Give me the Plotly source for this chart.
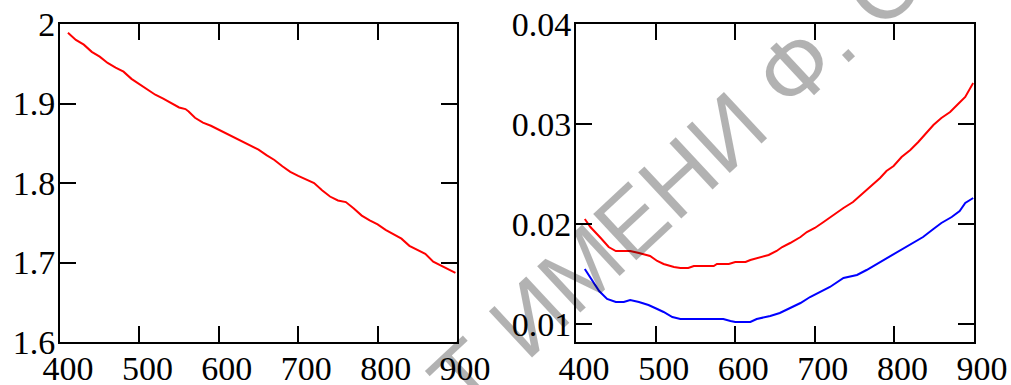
import plotly.graph_objects as go
from plotly.subplots import make_subplots

# ---- data: left panel ----
x_left = [410, 420, 430, 440, 450, 460, 470, 480, 490, 500, 510, 520, 530, 540, 550, 558, 562,
          570, 580, 590, 600, 610, 620, 630, 640, 650, 660, 670, 680, 690, 700, 710, 720, 730,
          740, 750, 760, 770, 780, 790, 800, 810, 820, 830, 840, 850, 860, 870, 880, 890, 898]
y_left = [1.989, 1.980, 1.974, 1.965, 1.959, 1.951, 1.945, 1.940, 1.931, 1.924, 1.917, 1.911,
          1.906, 1.900, 1.895, 1.893, 1.890, 1.882, 1.876, 1.872, 1.867, 1.862, 1.857, 1.852,
          1.847, 1.842, 1.835, 1.829, 1.821, 1.814, 1.809, 1.805, 1.800, 1.791, 1.783, 1.778,
          1.776, 1.768, 1.759, 1.753, 1.748, 1.741, 1.736, 1.730, 1.721, 1.716, 1.711, 1.701,
          1.696, 1.691, 1.687]

# ---- data: right panel, red curve ----
x_red = [411, 418, 431, 441, 450, 468, 479, 493, 502, 510, 523, 531, 541, 548, 565, 573, 577,
         592, 600, 613, 619, 627, 642, 652, 659, 669, 682, 690, 700, 711, 723, 736, 748, 761,
         774, 782, 790, 799, 809, 820, 830, 841, 849, 859, 870, 880, 889, 899]
y_red = [0.0205, 0.0197, 0.0186, 0.0177, 0.0173, 0.0173, 0.0171, 0.0168, 0.0163, 0.0160,
         0.0157, 0.0156, 0.0156, 0.0158, 0.0158, 0.0158, 0.0160, 0.0160, 0.0162, 0.0162,
         0.0164, 0.0166, 0.0169, 0.0173, 0.0177, 0.0181, 0.0187, 0.0192, 0.0196, 0.0202,
         0.0209, 0.0216, 0.0222, 0.0231, 0.0240, 0.0246, 0.0253, 0.0258, 0.0267, 0.0274,
         0.0282, 0.0292, 0.0299, 0.0306, 0.0312, 0.0320, 0.0327, 0.0341]

# ---- data: right panel, blue curve ----
x_blue = [411, 418, 429, 439, 450, 460, 468, 479, 491, 502, 510, 521, 531, 552, 585, 594, 600,
          619, 627, 644, 656, 669, 682, 694, 707, 719, 736, 753, 765, 778, 790, 801, 811, 824,
          836, 849, 859, 872, 882, 889, 899]
y_blue = [0.0155, 0.0146, 0.0133, 0.0125, 0.0122, 0.0122, 0.0124, 0.0122, 0.0119, 0.0115,
          0.0112, 0.0107, 0.0105, 0.0105, 0.0105, 0.0103, 0.0102, 0.0102, 0.0105, 0.0108,
          0.0111, 0.0116, 0.0121, 0.0127, 0.0132, 0.0137, 0.0146, 0.0149, 0.0154, 0.0160,
          0.0165, 0.0170, 0.0175, 0.0181, 0.0187, 0.0195, 0.0201, 0.0207, 0.0213, 0.0221,
          0.0226]

# ---- ticks ----
x_ticks = [400, 500, 600, 700, 800, 900]
x_tick_text = ["400", "500", "600", "700", "800", "900"]
yl_ticks = [1.6, 1.7, 1.8, 1.9, 2.0]
yl_tick_text = ["1.6", "1.7", "1.8", "1.9", "2"]
yr_ticks = [0.01, 0.02, 0.03, 0.04]
yr_tick_text = ["0.01", "0.02", "0.03", "0.04"]

watermark = "Т ИМЕНИ Ф. С"

fig = make_subplots(rows=1, cols=2)
fig.add_trace(go.Scatter(x=x_left, y=y_left, mode="lines",
                         line=dict(color="#ff0000", width=2)), row=1, col=1)
fig.add_trace(go.Scatter(x=x_red, y=y_red, mode="lines",
                         line=dict(color="#ff0000", width=2)), row=1, col=2)
fig.add_trace(go.Scatter(x=x_blue, y=y_blue, mode="lines",
                         line=dict(color="#0000ff", width=2)), row=1, col=2)

tickfont = dict(family="Liberation Serif, Times New Roman, serif", size=34, color="black")
axis_common = dict(showline=True, linecolor="black", linewidth=2, mirror="ticks",
                   ticks="inside", ticklen=16, tickwidth=2, tickcolor="black",
                   showgrid=False, zeroline=False, tickfont=tickfont, automargin=False)

fig.update_xaxes(**axis_common, range=[400, 900], tickvals=x_ticks, ticktext=x_tick_text,
                 ticklabelshift=8, ticklabelstandoff=-5)
fig.update_layout(
    xaxis=dict(domain=[0, 0.4344]),
    xaxis2=dict(domain=[0.5646, 1]),
)
fig.update_yaxes(**axis_common, ticklabelstandoff=-4)
fig.update_yaxes(range=[1.6, 2.0], tickvals=yl_ticks, ticktext=yl_tick_text, row=1, col=1)
fig.update_yaxes(range=[0.0082, 0.04], tickvals=yr_ticks, ticktext=yr_tick_text, row=1, col=2)

fig.add_annotation(text=watermark, xref="paper", yref="paper", x=0.6735, y=0.5094,
                   xanchor="center", yanchor="middle", showarrow=False, textangle=-43,
                   font=dict(family="Liberation Sans, Arial, sans-serif", size=92,
                             color="rgba(0,0,0,0.3)"))

fig.update_layout(width=1011, height=385, margin=dict(l=60, r=37, t=24, b=43),
                  paper_bgcolor="white", plot_bgcolor="white", showlegend=False)

fig.write_html("out.html", config={"displayModeBar": False, "staticPlot": True},
               post_script="document.body.style.margin='0px';")
